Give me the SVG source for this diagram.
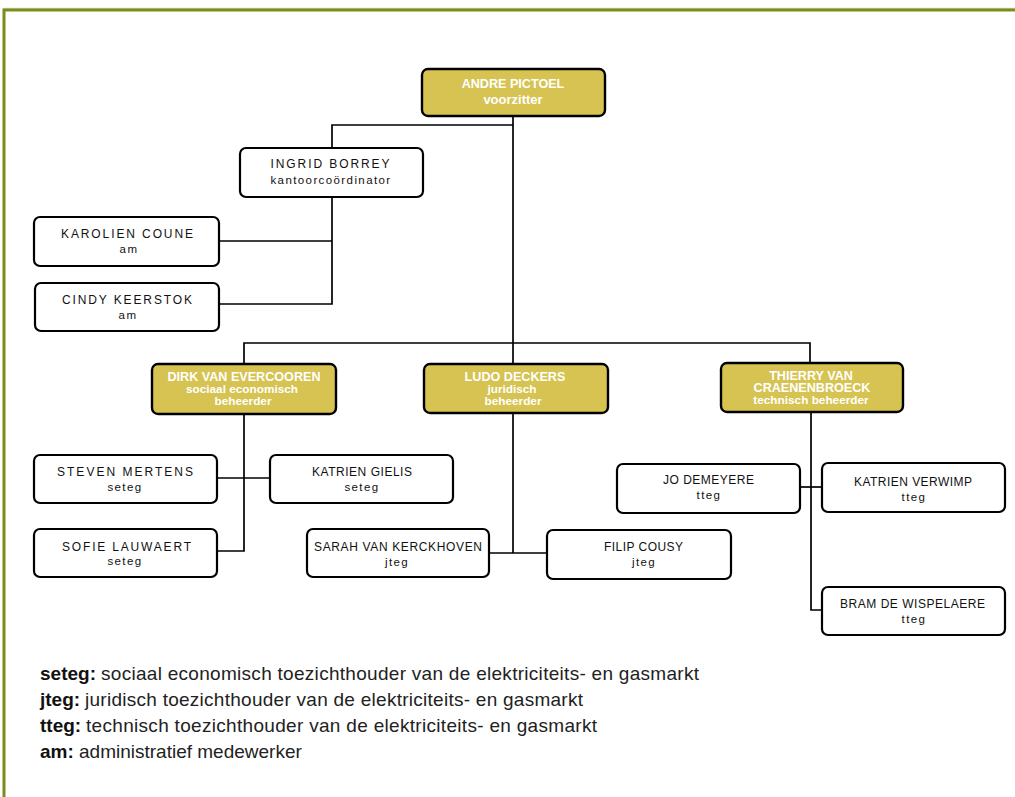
<svg xmlns="http://www.w3.org/2000/svg" width="1015" height="797" viewBox="0 0 1015 797">
<style>
.box{fill:#ffffff;stroke:#000000;stroke-width:2.2}
.gold{fill:#d6c352;stroke:#000000;stroke-width:2.4}
.nm{font-family:"Liberation Sans",Arial,sans-serif;font-size:12px;fill:#111111;text-anchor:middle}
.sub{font-family:"Liberation Sans",Arial,sans-serif;font-size:11.5px;fill:#111111;text-anchor:middle;letter-spacing:1.4px}
.gn{font-family:"Liberation Sans",Arial,sans-serif;font-size:12.6px;font-weight:bold;fill:#ffffff;text-anchor:middle}
.gs{font-family:"Liberation Sans",Arial,sans-serif;font-size:11.8px;font-weight:bold;fill:#ffffff;text-anchor:middle}
.conn{fill:none;stroke:#000000;stroke-width:1.7}
.lb{font-family:"Liberation Sans",Arial,sans-serif;font-size:19px;font-weight:bold;fill:#111111}
.lt{font-family:"Liberation Sans",Arial,sans-serif;font-size:19px;fill:#222222}
</style>
<rect x="0" y="0" width="1015" height="797" fill="#ffffff"/>
<g id="frame">
<line x1="3" y1="8.3" x2="1015" y2="8.3" stroke="#c8cf95" stroke-width="1"/>
<path d="M4,797 V10 H1015" fill="none" stroke="#7d8c1e" stroke-width="3"/>
</g>
<g id="connectors">
<path class="conn" d="M513,116 V364"/>
<path class="conn" d="M513,125 H332 V148"/>
<path class="conn" d="M332,197 V304 H219"/>
<path class="conn" d="M219,241 H332"/>
<path class="conn" d="M244,364 V343 H810 V363"/>
<path class="conn" d="M244,414 V551 H217"/>
<path class="conn" d="M217,478 H270"/>
<path class="conn" d="M513,413 V553"/>
<path class="conn" d="M489,553 H547"/>
<path class="conn" d="M811,412 V610 H822"/>
<path class="conn" d="M800,487 H822"/>
</g>
<g id="andre">
<rect class="gold" x="422" y="69" width="183" height="47" rx="6"/>
<text class="gn" x="513" y="88">ANDRE PICTOEL</text>
<text class="gs" x="513" y="104" style="font-size:13px">voorzitter</text>
</g>
<g id="ingrid">
<rect class="box" x="240" y="148" width="183" height="49" rx="6"/>
<text class="nm" x="330" y="168" textLength="119">INGRID BORREY</text>
<text class="sub" x="331" y="184">kantoorcoördinator</text>
</g>
<g id="karolien">
<rect class="box" x="34" y="217" width="185" height="49" rx="6"/>
<text class="nm" x="127" y="238" textLength="132">KAROLIEN COUNE</text>
<text class="sub" x="129" y="253">am</text>
</g>
<g id="cindy">
<rect class="box" x="35" y="283" width="184" height="48" rx="6"/>
<text class="nm" x="127" y="304" textLength="130">CINDY KEERSTOK</text>
<text class="sub" x="128" y="319">am</text>
</g>
<g id="dirk">
<rect class="gold" x="152" y="364" width="184" height="50" rx="6"/>
<text class="gn" x="244" y="380.5">DIRK VAN EVERCOOREN</text>
<text class="gs" x="242" y="393">sociaal economisch</text>
<text class="gs" x="243" y="405">beheerder</text>
</g>
<g id="ludo">
<rect class="gold" x="424" y="364" width="184" height="49" rx="6"/>
<text class="gn" x="515" y="380.5">LUDO DECKERS</text>
<text class="gs" x="512" y="392.5">juridisch</text>
<text class="gs" x="513" y="405">beheerder</text>
</g>
<g id="thierry">
<rect class="gold" x="721" y="363" width="182" height="49" rx="6"/>
<text class="gn" x="811" y="380">THIERRY VAN</text>
<text class="gn" x="812" y="392">CRAENENBROECK</text>
<text class="gs" x="811" y="404">technisch beheerder</text>
</g>
<g id="steven">
<rect class="box" x="34" y="455" width="183" height="48" rx="6"/>
<text class="nm" x="125" y="476" textLength="136">STEVEN MERTENS</text>
<text class="sub" x="125" y="491">seteg</text>
</g>
<g id="katrien-gielis">
<rect class="box" x="270" y="455" width="183" height="48" rx="6"/>
<text class="nm" x="362" y="476" textLength="100">KATRIEN GIELIS</text>
<text class="sub" x="362" y="491">seteg</text>
</g>
<g id="sofie">
<rect class="box" x="34" y="529" width="183" height="48" rx="6"/>
<text class="nm" x="126.5" y="551" textLength="129">SOFIE LAUWAERT</text>
<text class="sub" x="125" y="565">seteg</text>
</g>
<g id="sarah">
<rect class="box" x="307" y="529" width="182" height="48" rx="6"/>
<text class="nm" x="398" y="551" textLength="168">SARAH VAN KERCKHOVEN</text>
<text class="sub" x="397" y="566">jteg</text>
</g>
<g id="filip">
<rect class="box" x="547" y="530" width="184" height="49" rx="6"/>
<text class="nm" x="643.5" y="551" textLength="79">FILIP COUSY</text>
<text class="sub" x="644" y="566">jteg</text>
</g>
<g id="jo">
<rect class="box" x="617" y="464" width="183" height="49" rx="6"/>
<text class="nm" x="708.5" y="484" textLength="91">JO DEMEYERE</text>
<text class="sub" x="709" y="499">tteg</text>
</g>
<g id="katrien-verwimp">
<rect class="box" x="822" y="463" width="183" height="49" rx="6"/>
<text class="nm" x="913" y="486" textLength="118">KATRIEN VERWIMP</text>
<text class="sub" x="914" y="501">tteg</text>
</g>
<g id="bram">
<rect class="box" x="822" y="587" width="183" height="48" rx="6"/>
<text class="nm" x="912.5" y="608" textLength="145">BRAM DE WISPELAERE</text>
<text class="sub" x="914" y="623">tteg</text>
</g>
<g id="legend">
<text class="lb" x="40" y="680">seteg:</text>
<text class="lt" x="101" y="680" textLength="598">sociaal economisch toezichthouder van de elektriciteits- en gasmarkt</text>
<text class="lb" x="40" y="706">jteg:</text>
<text class="lt" x="85" y="706" textLength="498">juridisch toezichthouder van de elektriciteits- en gasmarkt</text>
<text class="lb" x="40" y="732">tteg:</text>
<text class="lt" x="86" y="732" textLength="511">technisch toezichthouder van de elektriciteits- en gasmarkt</text>
<text class="lb" x="40" y="758">am:</text>
<text class="lt" x="79" y="758">administratief medewerker</text>
</g>
</svg>
